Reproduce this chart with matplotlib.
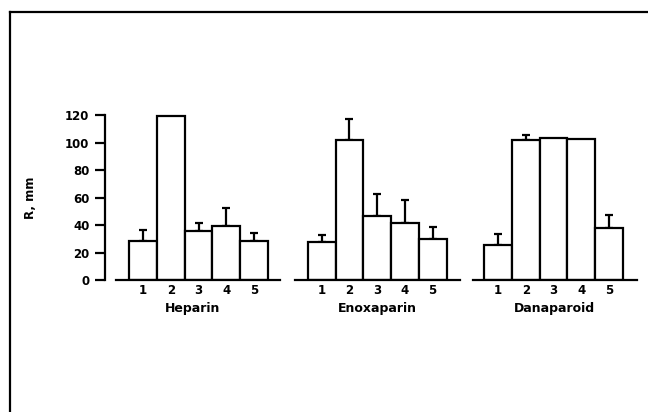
import numpy as np
import matplotlib
matplotlib.use("Agg")
from matplotlib import pyplot as plt
from matplotlib.lines import Line2D

plt.rcParams['font.family'] = ['DejaVu Sans']
plt.rcParams['font.weight'] = 'bold'

groups = ['Heparin', 'Enoxaparin', 'Danaparoid']
bar_labels = ['1', '2', '3', '4', '5']
heparin = [28.5, 119.5, 35.8, 39.5, 28.5]
heparin_err = [8.0, 0, 6.0, 13.0, 6.0]
enoxaparin = [27.5, 102, 47, 42, 30.3]
enoxaparin_err = [5.5, 15.0, 16.0, 16.5, 8.5]
danaparoid = [25.5, 102, 103.7, 102.8, 37.8]
danaparoid_err = [8.0, 3.7, 0, 0, 10.0]

values = [heparin, enoxaparin, danaparoid]
errors = [heparin_err, enoxaparin_err, danaparoid_err]

W, H = 648, 412
fig = plt.figure(figsize=(W / 100, H / 100), dpi=100)

# frame: only top and left lines visible in the original
fig.add_artist(Line2D([10 / W, 10 / W], [0, 1 - 12 / H], transform=fig.transFigure, color='black', lw=1.6))
fig.add_artist(Line2D([10 / W, 1], [1 - 12 / H, 1 - 12 / H], transform=fig.transFigure, color='black', lw=1.6))

px_unit = 27.75
y0_px = 280.3
ytop = 125
y_scale = 1.375
bottom = 1 - y0_px / H
height = ytop * y_scale / H

# axes layout in pixels: (left pixel, xlim, baseline start)
layout = [(105, (-0.37, 5.92), 0.02), (295, (0.04, 6.0), 0.04), (472.7, (0.09, 6.0), 0.09)]

x = np.arange(1, 6)
for i, (left_px, xl, base0) in enumerate(layout):
    w_px = (xl[1] - xl[0]) * px_unit
    ax = fig.add_axes([left_px / W, bottom, w_px / W, height])
    ax.bar(x, values[i], width=1.0, color='white', edgecolor='black', linewidth=1.6, zorder=2)
    err = np.array(errors[i])
    m = err > 0
    ax.errorbar(x[m], np.array(values[i])[m], yerr=[np.zeros(m.sum()), err[m]], fmt='none',
                ecolor='black', elinewidth=1.6, capsize=2.6, capthick=1.6, zorder=1)
    ax.set_xlim(*xl)
    ax.set_ylim(0, ytop)
    ax.set_xticks(x)
    ax.set_xticklabels(bar_labels, fontsize=8.5, fontweight='bold')
    ax.tick_params(axis='x', length=0, pad=2.5)
    ax.spines['top'].set_visible(False)
    ax.spines['right'].set_visible(False)
    ax.spines['bottom'].set_linewidth(1.6)
    ax.spines['bottom'].set_bounds(base0, xl[1])
    ax.set_xlabel(groups[i], fontsize=9, fontweight='bold', labelpad=4)
    if i == 0:
        ax.spines['left'].set_linewidth(1.6)
        ax.spines['left'].set_bounds(0, 120)
        ax.set_yticks(np.arange(0, 121, 20))
        ax.set_yticklabels([str(v) for v in range(0, 121, 20)], fontsize=8.5, fontweight='bold')
        ax.tick_params(axis='y', length=7.2, width=1.6, pad=4)
        ax.set_ylabel('R, mm', fontsize=8.5, fontweight='bold')
        ax.yaxis.set_label_coords(-0.39, 0.48)
    else:
        ax.spines['left'].set_visible(False)
        ax.set_yticks([])
    ax.patch.set_visible(False)

fig.savefig('out.png', dpi=100)
